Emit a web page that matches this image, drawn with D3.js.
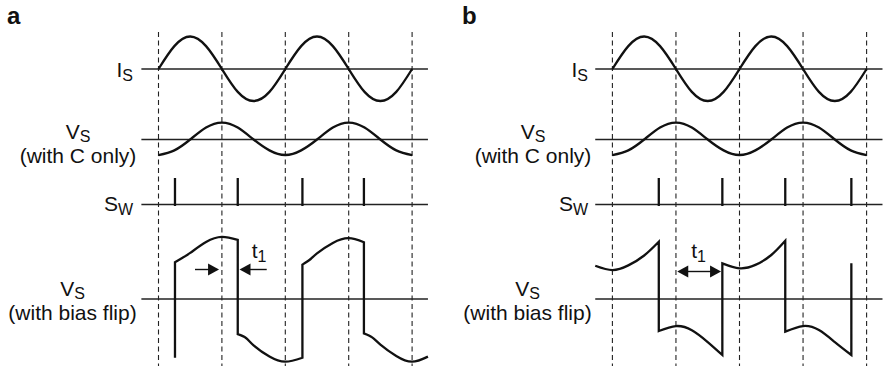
<!DOCTYPE html>
<html>
<head>
<meta charset="utf-8">
<script src="https://cdn.jsdelivr.net/npm/d3@7"></script>
<style>
  body { margin: 0; background: #fff; }
  text { font-family: "Liberation Sans", Arial, Helvetica, sans-serif; fill: #111; }
</style>
</head>
<body>
<div id="chart"></div>
<script>
// time axis: in half periods of the source current
var tGrid = [0, 0.25, 0.5, 0.75, 1, 1.25, 1.5, 1.75, 2, 2.25, 2.5, 2.75, 3, 3.25, 3.5, 3.75, 4];
var markerT = [0, 1, 2, 3, 4];

// values (1 unit = C-only voltage amplitude)
var iSource = [0, 1.43, 2.03, 1.43, 0, -1.43, -2.0, -1.43, 0, 1.43, 2.03, 1.43, 0, -1.43, -2.0, -1.43, 0];
var vCapOnly = [-0.97, -0.68, 0, 0.75, 1.06, 0.75, 0, -0.68, -0.97, -0.68, 0, 0.75, 1.06, 0.75, 0, -0.68, -0.97];

// switch instants
var switchA = [0.26, 1.25, 2.27, 3.24];
var switchB = [0.73, 1.73, 2.72, 3.76];

// bias flip voltage, one list of [t, v] per interval between switches
var flipA = [
  [[0.26, -3.67]],
  [[0.26, 2.3], [0.38, 2.58], [0.5, 2.88], [0.75, 3.56], [1.0, 3.88], [1.25, 3.69]],
  [[1.25, -2.2], [1.38, -2.44], [1.5, -2.9], [1.75, -3.6], [2.0, -3.92], [2.27, -3.67]],
  [[2.27, 2.15], [2.4, 2.5], [2.5, 2.85], [2.75, 3.5], [3.0, 3.8], [3.24, 3.55]],
  [[3.24, -2.15], [3.37, -2.4], [3.5, -2.85], [3.75, -3.56], [4.0, -3.92], [4.25, -3.6]]
];
var flipB = [
  [[-0.27, 2.08], [0, 1.81], [0.25, 2.1], [0.5, 2.72], [0.73, 3.58]],
  [[0.73, -2.0], [1.0, -1.69], [1.25, -1.95], [1.5, -2.69], [1.73, -3.5]],
  [[1.73, 2.23], [2.0, 1.92], [2.25, 2.13], [2.5, 2.75], [2.72, 3.64]],
  [[2.72, -2.04], [3.0, -1.69], [3.25, -1.94], [3.5, -2.69], [3.76, -3.5]],
  [[3.76, 2.23]]
];

var svg = d3.select('#chart').append('svg')
  .attr('width', 885)
  .attr('height', 366);

var ink = '#111';

function rowScale(base) {
  return d3.scaleLinear().domain([-1, 1]).range([base + 16, base - 16]);
}
var yI = rowScale(69), yVc = rowScale(139.5), ySw = rowScale(204.5), yVb = rowScale(299);

function arrowHead(g, tipX, y, dir) {
  g.append('path')
    .attr('d', 'M' + tipX + ',' + y + 'L' + (tipX - dir * 11) + ',' + (y - 6) + 'L' + (tipX - dir * 11) + ',' + (y + 6) + 'Z')
    .attr('fill', ink);
}

function drawPanel(opt) {
  var g = svg.append('g');
  var x = d3.scaleLinear().domain([0, 4]).range(opt.range);
  var dx = opt.dx;

  g.append('text').attr('x', 7 + dx).attr('y', 24)
    .style('font-size', '24px').style('font-weight', 'bold').text(opt.name);

  // dashed markers at the current zero crossings
  g.selectAll('.marker').data(markerT).enter().append('line')
    .attr('class', 'marker')
    .attr('x1', function(d){ return x(d); })
    .attr('x2', function(d){ return x(d); })
    .attr('y1', 32).attr('y2', 366)
    .attr('stroke', '#222').attr('stroke-width', 1.1)
    .attr('stroke-dasharray', '5,3.5');

  // baselines
  [yI, yVc, ySw, yVb].forEach(function(y){
    g.append('line')
      .attr('x1', x(-0.27)).attr('x2', x(4.25))
      .attr('y1', y(0)).attr('y2', y(0))
      .attr('stroke', '#222').attr('stroke-width', 1.3);
  });

  // I_S and V_S (C only)
  var lineI = d3.line()
    .x(function(d, i){ return x(tGrid[i]); })
    .y(function(d){ return yI(d); })
    .curve(d3.curveNatural);
  var lineVc = d3.line()
    .x(function(d, i){ return x(tGrid[i]); })
    .y(function(d){ return yVc(d); })
    .curve(d3.curveNatural);
  g.append('path').attr('d', lineI(iSource))
    .attr('fill', 'none').attr('stroke', ink).attr('stroke-width', 2.3);
  g.append('path').attr('d', lineVc(vCapOnly))
    .attr('fill', 'none').attr('stroke', ink).attr('stroke-width', 2.3);

  // switch pulses
  g.selectAll('.pulse').data(opt.switches).enter().append('line')
    .attr('class', 'pulse')
    .attr('x1', function(d){ return x(d); })
    .attr('x2', function(d){ return x(d); })
    .attr('y1', 178).attr('y2', 206)
    .attr('stroke', ink).attr('stroke-width', 2.3);

  // bias flip voltage: smooth pieces joined by vertical jumps
  var lineB = d3.line()
    .x(function(d){ return x(d[0]); })
    .y(function(d){ return yVb(d[1]); })
    .curve(d3.curveNatural);
  var dPath = opt.flip.map(function(seg, i){
    var s = lineB(seg).replace(/Z$/, '');
    return i === 0 ? s : s.replace(/^M/, 'L');
  }).join('');
  g.append('path').attr('d', dPath)
    .attr('fill', 'none').attr('stroke', ink).attr('stroke-width', 2.3)
    .attr('stroke-linejoin', 'miter');

  // row labels
  var lab = g.append('g').style('font-size', '21px');
  var t;
  t = lab.append('text').attr('x', 133 + dx).attr('y', 77).attr('text-anchor', 'end');
  t.append('tspan').text('I');
  t.append('tspan').attr('dy', 4).style('font-size', '16px').text('S');

  t = lab.append('text').attr('x', 78 + dx).attr('y', 139).attr('text-anchor', 'middle');
  t.append('tspan').text('V');
  t.append('tspan').attr('dy', 3).style('font-size', '16px').text('S');
  lab.append('text').attr('x', 78 + dx).attr('y', 163).attr('text-anchor', 'middle').text('(with C only)');

  t = lab.append('text').attr('x', 133 + dx).attr('y', 211).attr('text-anchor', 'end');
  t.append('tspan').text('S');
  t.append('tspan').attr('dy', 4).style('font-size', '16px').text('W');

  t = lab.append('text').attr('x', 72.5 + dx).attr('y', 296).attr('text-anchor', 'middle');
  t.append('tspan').text('V');
  t.append('tspan').attr('dy', 3).style('font-size', '16px').text('S');
  lab.append('text').attr('x', 72.5 + dx).attr('y', 320).attr('text-anchor', 'middle').text('(with bias flip)');

  // t1 annotation
  opt.arrows.forEach(function(a){
    var x1 = x(a[0]), x2 = x(a[1]);
    var dir = x2 > x1 ? 1 : -1;
    var y = opt.arrowY;
    g.append('line')
      .attr('x1', a[2] ? x1 + dir * 8 : x1).attr('x2', x2 - dir * 8)
      .attr('y1', y).attr('y2', y)
      .attr('stroke', ink).attr('stroke-width', 1.4);
    arrowHead(g, x2, y, dir);
    if (a[2]) arrowHead(g, x1, y, -dir);
  });
  t = lab.append('text').attr('x', x(opt.labelT)).attr('y', 258);
  t.append('tspan').text('t');
  t.append('tspan').attr('dy', 4).style('font-size', '16px').text('1');
}

drawPanel({
  name: 'a', dx: 0, range: [158.5, 412.1],
  switches: switchA, flip: flipA,
  arrows: [[0.576, 0.955, false], [1.707, 1.278, false]],
  arrowY: 269.5, labelT: 1.47
});
drawPanel({
  name: 'b', dx: 455, range: [612.4, 866.6],
  switches: switchB, flip: flipB,
  arrows: [[1.02, 1.71, true]],
  arrowY: 271.5, labelT: 1.24
});
</script>
</body>
</html>
